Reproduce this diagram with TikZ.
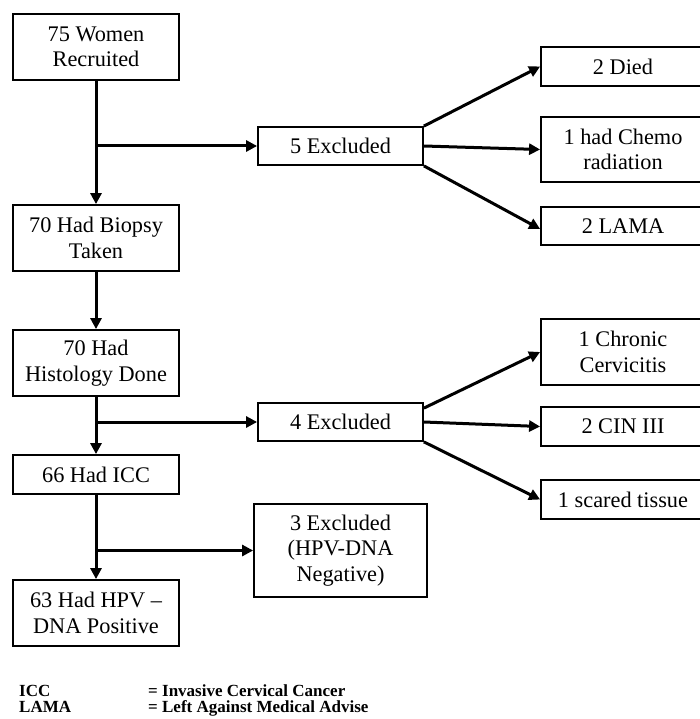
\documentclass[tikz,border=0pt]{standalone}
\usepackage{fontspec}
\setmainfont{Liberation Serif}
\usetikzlibrary{arrows.meta}
\begin{document}
\begin{tikzpicture}[x=1pt,y=-1pt,
  box/.style={draw,line width=1.8pt,inner sep=0pt,align=center,
    font=\fontsize{22.3}{25.5}\selectfont},
  lbox/.style={box,minimum width=166pt},
  rbox/.style={box,minimum width=164pt},
  ebox/.style={box,minimum width=165pt},
  arr/.style={line width=3pt,-{Triangle[length=11pt,width=11pt]}},
  legend/.style={anchor=base west,inner sep=0pt,font=\fontsize{17}{20}\selectfont\bfseries}]
\useasboundingbox (0,0) rectangle (699,719);
% left column
\node[lbox,minimum height=66pt] (b1) at (96,47) {75 Women\\Recruited};
\node[lbox,minimum height=66pt] (b2) at (96,238) {70 Had Biopsy\\Taken};
\node[lbox,minimum height=66pt] (b3) at (96,363) {70 Had\\Histology Done};
\node[lbox,minimum height=39pt] (b4) at (96,474.5) {66 Had ICC};
\node[lbox,minimum height=66pt] (b5) at (96,613) {63 Had HPV --\\DNA Positive};
% exclusion boxes
\node[ebox,minimum height=38pt] (ex5) at (340.5,146) {5 Excluded};
\node[ebox,minimum height=38pt] (ex4) at (340.5,422) {4 Excluded};
\node[box,minimum width=173pt,minimum height=93pt] (ex3) at (340.5,550.5) {3 Excluded\\(HPV-DNA\\Negative)};
% right column
\node[rbox,minimum height=39pt] (died) at (623,66.5) {2 Died};
\node[rbox,minimum height=65pt] (chemo) at (623,149.5) {1 had Chemo\\radiation};
\node[rbox,minimum height=38pt] (lama) at (623,226) {2 LAMA};
\node[rbox,minimum height=66pt] (chron) at (623,352) {1 Chronic\\Cervicitis};
\node[rbox,minimum height=39pt] (cin) at (623,426.5) {2 CIN III};
\node[rbox,minimum height=39pt] (scar) at (623,499.5) {1 scared tissue};
% main flow
\draw[arr] (b1) -- (b2);
\draw[arr] (b2) -- (b3);
\draw[arr] (b3) -- (b4);
\draw[arr] (b4) -- (b5);
\draw[arr] (b1.south |- ex5.west) -- (ex5.west);
\draw[arr] (b3.south |- ex4.west) -- (ex4.west);
\draw[arr] (b4.south |- ex3.west) -- (ex3.west);
% exclusion branches
\draw[arr] (ex5.north east) -- (died.west);
\draw[arr] (ex5.east) -- (chemo.west);
\draw[arr] (ex5.south east) -- ([yshift=-3pt]lama.west);
\draw[arr] ([yshift=-6pt]ex4.north east) -- (chron.west);
\draw[arr] (ex4.east) -- (cin.west);
\draw[arr] (ex4.south east) -- (scar.west);
% legend
\node[legend] (l1) at (19,696) {ICC};
\node[legend] (l1b) at (148,696) {= Invasive Cervical Cancer};
\node[legend] (l2) at (19,712) {LAMA};
\node[legend] (l2b) at (148,712) {= Left Against Medical Advise};
\end{tikzpicture}
\end{document}
